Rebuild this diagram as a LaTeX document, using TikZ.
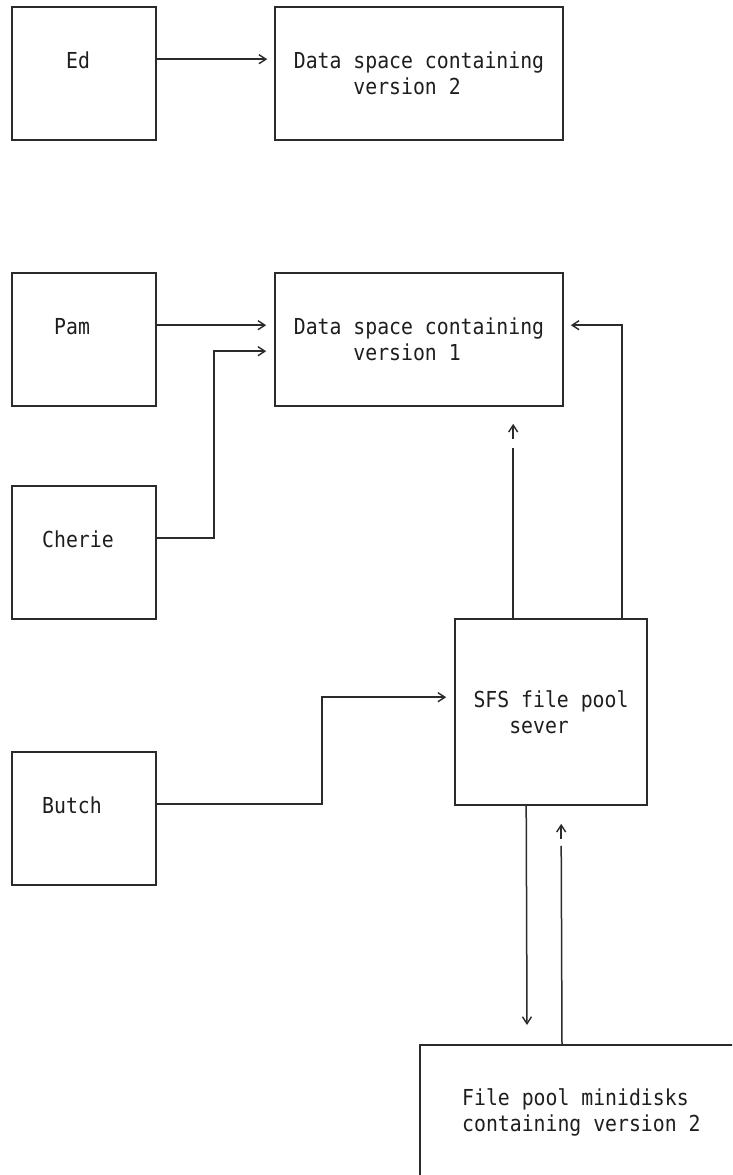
\documentclass[tikz,border=0pt]{standalone}
\usepackage{fontspec}
\newfontfamily\monof[FakeStretch=0.9]{DejaVu Sans Mono}
\usetikzlibrary{arrows.meta,calc}
\definecolor{ink}{HTML}{2B2B2B}
\definecolor{txt}{HTML}{1E1E1E}
\begin{document}
\begin{tikzpicture}[x=1pt,y=-1pt,
  box/.style={draw=ink,line width=1.6pt,rectangle,inner sep=0pt,
    font=\monof\fontsize{22}{26}\selectfont,text=txt,align=left},
  lbl/.style={inner sep=0pt,anchor=west,font=\monof\fontsize{22}{26}\selectfont,text=txt,align=left},
  conn/.style={draw=ink,line width=1.5pt},
  arr/.style={conn,-{Straight Barb[length=7pt,width=9pt,line width=1.4pt]}}]
\useasboundingbox (0,0) rectangle (732,1175);
\fill[white] (0,0) rectangle (732,1175);
\clip (0,0) rectangle (732,1175);

% boxes
\node[box,minimum width=144,minimum height=133] (ed) at (84,73.5) {};
\node[box,minimum width=288,minimum height=133] (v2) at (419,73.5)
  {Data space containing\\\hphantom{xxxxx}version 2};
\node[box,minimum width=144,minimum height=133] (pam) at (84,339.5) {};
\node[box,minimum width=288,minimum height=133] (v1) at (419,339.5)
  {Data space containing\\\hphantom{xxxxx}version 1};
\node[box,minimum width=144,minimum height=133] (ch) at (84,552.5) {};
\node[box,minimum width=144,minimum height=133] (bu) at (84,818.5) {};
\node[box,minimum width=192,minimum height=186] (sfs) at (551,712)
  {SFS file pool\\\hphantom{xxx}sever};
\node[box,minimum width=340,minimum height=170,anchor=north west] (fp) at (419,1044) {};

% labels
\node[lbl] (edt) at (66,60) {Ed};
\node[lbl] (pamt) at (54,327) {Pam};
\node[lbl] (cht) at (42,539) {Cherie};
\node[lbl] (but) at (42,805) {Butch};
\node[lbl] (fpt) at (462,1112) {File pool minidisks\\containing version 2};

% connectors
\draw[arr] ($(ed.north east)+(0,53)$) -- ($(v2.north west)+(-7,53)$);
\draw[arr] ($(pam.north east)+(0,53)$) -- ($(v1.north west)+(-8,53)$);
\draw[arr] ($(ch.north east)+(0,53)$) -| ($(v1.north west)+(-60,79)$) -- ($(v1.north west)+(-8,79)$);
\draw[arr] ($(bu.north east)+(0,53)$) -| ($(sfs.north west)+(-132,79)$) -- ($(sfs.north west)+(-8,79)$);
\draw[arr] ($(sfs.north west)+(168,0)$) |- ($(v1.north east)+(7,53)$);
% up from SFS to v1 (line with separate head)
\draw[conn] ($(sfs.north west)+(59,0)$) -- ($(v1.south west)+(239,41)$);
\draw[arr] ($(v1.south west)+(239,32)$) -- ($(v1.south west)+(239,17)$);
% down from SFS to minidisks
\draw[arr] ($(sfs.south west)+(72,0)$) -- ($(fp.north west)+(108,-19)$);
% up from minidisks to SFS (line with separate head)
\draw[conn] ($(fp.north west)+(143,0)$) -- ($(sfs.south west)+(107,40)$);
\draw[arr] ($(sfs.south west)+(107,33)$) -- ($(sfs.south west)+(107,18)$);
\end{tikzpicture}
\end{document}
